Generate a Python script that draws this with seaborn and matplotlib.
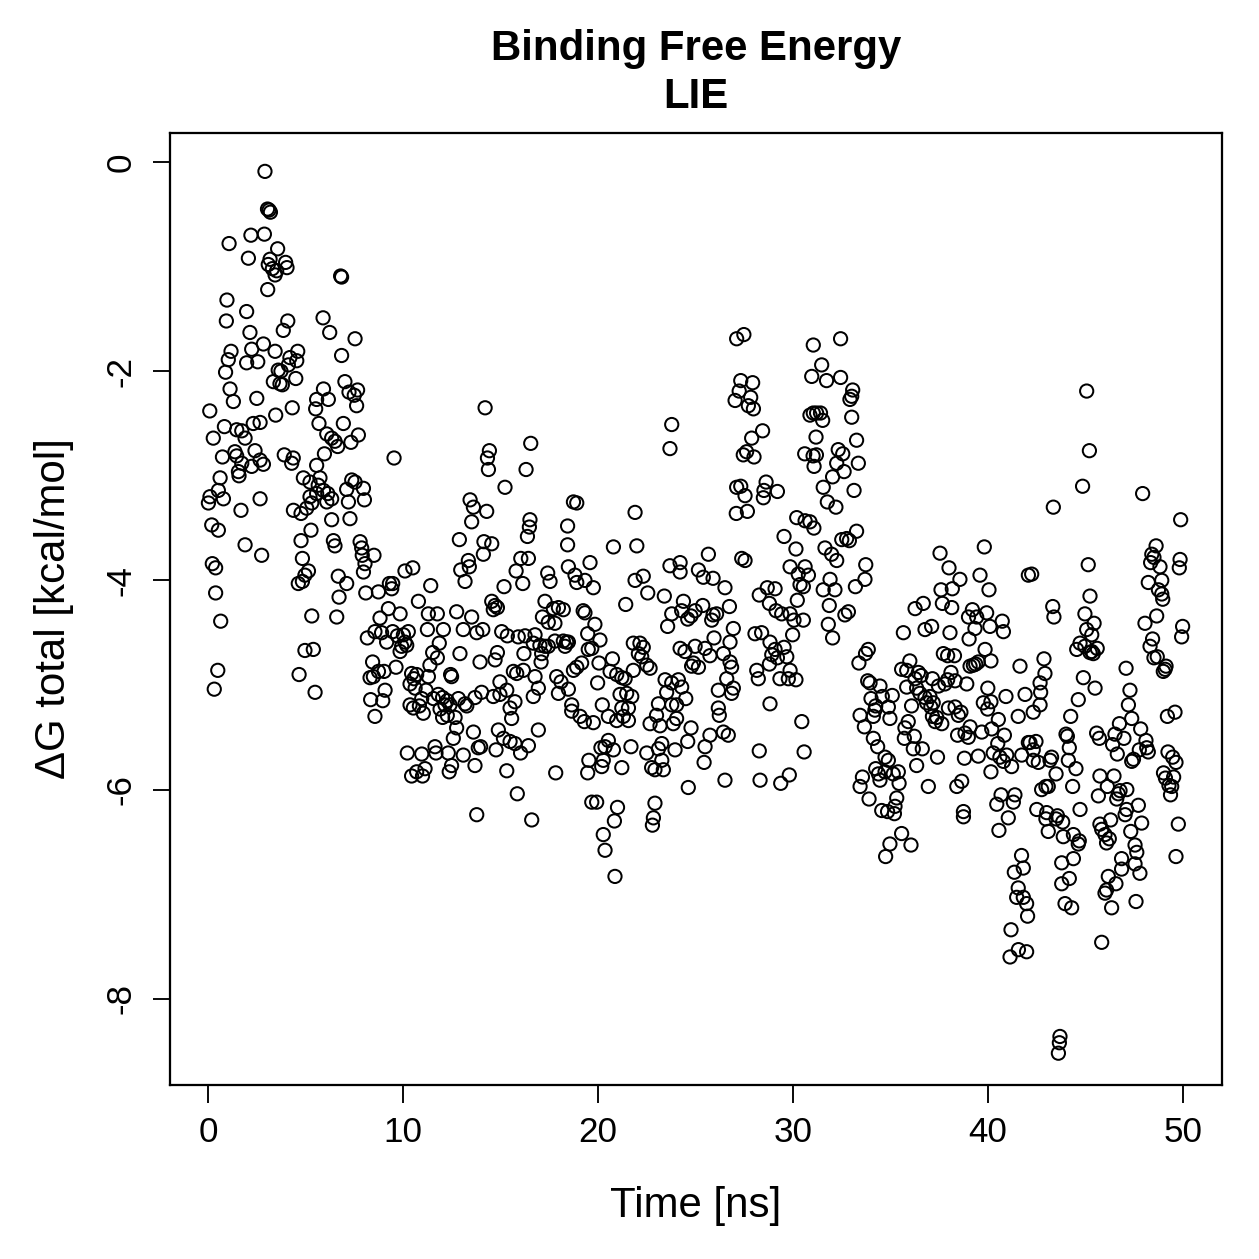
import matplotlib
matplotlib.use("Agg")
import pandas as pd
import matplotlib.pyplot as plt
import seaborn as sns

# (time [ns], dG total [kcal/mol]), split by time window
seg_00_08 = [
    (2.92, -0.09), (3.05, -0.45), (3.13, -0.46), (3.2, -0.48), (2.2, -0.70), (2.89, -0.69), (1.08, -0.78),
    (3.57, -0.83), (2.07, -0.92), (3.18, -0.93), (3.09, -0.98), (3.3, -1.02), (3.44, -1.08), (3.52, -1.04),
    (3.98, -0.96), (4.05, -1.01), (6.8, -1.09), (6.85, -1.1), (3.06, -1.22), (0.97, -1.32), (1.98, -1.43),
    (0.94, -1.52), (4.09, -1.52), (3.86, -1.61), (5.9, -1.49), (6.24, -1.63), (7.54, -1.69), (2.15, -1.63),
    (1.18, -1.81), (1.04, -1.89), (2.24, -1.79), (1.98, -1.92), (2.55, -1.91), (2.84, -1.74), (3.44, -1.81),
    (4.2, -1.87), (4.6, -1.81), (4.55, -1.9), (4.12, -1.94), (6.85, -1.85), (0.9, -2.01), (3.6, -1.99),
    (3.74, -2.0), (3.35, -2.1), (3.69, -2.12), (3.81, -2.13), (4.5, -2.07), (7.02, -2.1), (7.23, -2.2),
    (7.5, -2.23), (7.67, -2.18), (7.62, -2.33), (5.92, -2.17), (5.57, -2.27), (6.17, -2.27), (5.52, -2.36),
    (1.13, -2.17), (1.3, -2.29), (2.5, -2.26), (0.09, -2.38), (3.47, -2.42), (4.32, -2.35), (5.69, -2.5),
    (6.94, -2.5), (0.84, -2.53), (1.47, -2.56), (1.73, -2.57), (1.9, -2.64), (2.32, -2.5), (2.67, -2.49),
    (0.27, -2.64), (6.09, -2.6), (6.34, -2.64), (6.51, -2.67), (6.65, -2.72), (7.71, -2.61), (7.33, -2.68),
    (1.38, -2.77), (0.74, -2.82), (1.47, -2.81), (1.73, -2.88), (2.41, -2.76), (2.67, -2.85), (2.84, -2.89),
    (1.56, -2.96), (1.59, -3.0), (2.24, -2.91), (3.91, -2.8), (4.37, -2.83), (4.29, -2.88), (5.97, -2.79),
    (5.57, -2.9), (0.62, -3.02), (0.53, -3.14), (0.1, -3.2), (0.02, -3.26), (0.79, -3.22), (2.67, -3.22),
    (1.69, -3.33), (4.89, -3.02), (5.23, -3.06), (5.74, -3.02), (5.65, -3.09), (5.23, -3.2), (5.57, -3.17),
    (5.92, -3.14), (6.14, -3.17), (6.34, -3.22), (6.09, -3.25), (7.37, -3.04), (7.54, -3.06), (7.11, -3.13),
    (7.2, -3.25), (7.97, -3.12), (8.02, -3.23), (4.38, -3.33), (4.77, -3.36), (5.06, -3.31), (5.32, -3.26),
    (6.34, -3.42), (7.28, -3.41), (0.19, -3.47), (0.53, -3.52), (1.9, -3.66), (2.75, -3.76), (5.28, -3.52),
    (4.77, -3.62), (4.84, -3.79), (5.15, -3.91), (4.97, -3.95), (6.43, -3.62), (6.51, -3.67), (7.8, -3.63),
    (7.88, -3.69), (7.91, -3.76), (8.05, -3.84), (7.97, -3.92), (0.22, -3.84), (0.39, -3.88), (0.39, -4.12),
    (4.63, -4.03), (4.84, -4.01), (6.68, -3.96), (7.11, -4.03), (6.72, -4.16), (8.09, -4.12), (0.65, -4.39),
    (0.5, -4.86), (0.32, -5.04), (5.32, -4.34), (4.97, -4.67), (5.4, -4.66), (4.67, -4.9), (5.49, -5.07),
    (6.6, -4.35),
]

seg_08_17 = [
    (14.21, -2.35), (16.55, -2.69), (9.54, -2.83), (14.43, -2.76), (14.33, -2.83), (14.38, -2.94),
    (16.31, -2.94), (15.23, -3.11), (13.44, -3.23), (13.61, -3.3), (14.29, -3.34), (13.52, -3.44),
    (16.51, -3.42), (16.48, -3.49), (16.38, -3.58), (12.89, -3.61), (14.15, -3.63), (14.55, -3.65),
    (14.12, -3.75), (13.35, -3.81), (12.96, -3.9), (13.4, -3.87), (13.18, -4.01), (16.04, -3.79),
    (16.43, -3.79), (15.8, -3.91), (16.14, -4.03), (15.18, -4.06), (8.51, -3.76), (8.74, -4.11),
    (9.3, -4.03), (9.47, -4.03), (9.42, -4.08), (10.1, -3.91), (10.5, -3.88), (11.42, -4.05), (10.79, -4.2),
    (9.25, -4.27), (9.85, -4.32), (8.82, -4.36), (8.56, -4.49), (8.9, -4.5), (8.17, -4.55), (9.16, -4.59),
    (9.47, -4.49), (9.71, -4.53), (10.02, -4.52), (10.27, -4.49), (10.1, -4.59), (9.93, -4.63),
    (10.19, -4.62), (9.85, -4.68), (8.44, -4.78), (8.74, -4.87), (8.48, -4.92), (8.31, -4.93),
    (9.03, -4.87), (9.64, -4.83), (9.08, -5.05), (8.34, -5.14), (8.96, -5.15), (8.56, -5.3),
    (11.3, -4.32), (11.76, -4.32), (12.75, -4.3), (13.52, -4.35), (11.25, -4.47), (12.07, -4.47),
    (13.09, -4.47), (13.78, -4.5), (14.09, -4.47), (11.86, -4.6), (11.52, -4.69), (11.76, -4.74),
    (12.92, -4.7), (13.95, -4.78), (14.72, -4.76), (14.84, -4.69), (15.06, -4.49), (15.35, -4.53),
    (15.91, -4.54), (16.26, -4.53), (16.68, -4.6), (16.2, -4.7), (14.55, -4.2), (14.72, -4.24),
    (14.84, -4.26), (14.63, -4.28), (11.38, -4.81), (11.3, -4.92), (10.44, -4.89), (10.7, -4.9),
    (10.36, -4.99), (10.62, -5.03), (10.56, -4.94), (11.18, -5.05), (12.44, -4.9), (12.49, -4.92),
    (11.81, -5.09), (12.03, -5.12), (12.27, -5.15), (12.15, -5.19), (11.9, -5.23), (12.41, -5.19),
    (11.56, -5.13), (10.96, -5.13), (10.84, -5.2), (10.36, -5.19), (10.53, -5.22), (11.04, -5.27),
    (12.84, -5.13), (13.18, -5.18), (13.27, -5.2), (13.69, -5.12), (14.03, -5.07), (14.97, -4.97),
    (15.32, -5.05), (15.66, -4.87), (15.83, -4.89), (16.17, -4.86), (14.63, -5.11), (14.97, -5.09),
    (15.74, -5.16), (15.49, -5.22), (15.57, -5.32), (16.68, -5.11), (12.27, -5.29), (12.03, -5.31),
    (12.67, -5.31), (12.75, -5.41), (12.58, -5.51), (13.61, -5.45), (14.89, -5.43), (15.15, -5.51),
    (15.49, -5.54), (15.74, -5.56), (16.03, -5.65), (16.43, -5.58), (13.86, -5.6), (13.98, -5.59),
    (14.77, -5.62), (11.64, -5.59), (11.69, -5.65), (12.32, -5.65), (10.22, -5.65), (10.96, -5.66),
    (13.09, -5.67), (10.7, -5.83), (11.13, -5.8), (10.44, -5.87), (11.0, -5.87), (12.37, -5.83),
    (12.49, -5.77), (13.69, -5.77), (15.32, -5.82), (15.86, -6.04), (13.78, -6.24), (16.6, -6.29),
]

seg_17_25 = [
    (23.78, -2.51), (23.69, -2.74), (18.74, -3.25), (18.91, -3.26), (21.9, -3.35), (18.44, -3.48),
    (18.44, -3.66), (20.79, -3.68), (21.99, -3.67), (19.59, -3.83), (18.48, -3.87), (17.42, -3.93),
    (17.54, -4.01), (18.82, -3.95), (18.91, -4.02), (19.33, -4.0), (19.76, -4.07), (21.9, -4.0),
    (22.32, -3.96), (22.55, -4.12), (21.42, -4.23), (23.69, -3.86), (24.21, -3.83), (24.21, -3.92),
    (25.15, -3.9), (23.4, -4.15), (17.28, -4.2), (17.97, -4.26), (18.22, -4.28), (17.71, -4.27),
    (17.15, -4.35), (17.45, -4.4), (17.79, -4.41), (19.24, -4.29), (19.33, -4.31), (19.84, -4.42),
    (19.47, -4.51), (20.1, -4.57), (19.68, -4.65), (19.5, -4.66), (24.38, -4.2), (24.29, -4.29),
    (24.77, -4.34), (24.98, -4.29), (24.6, -4.37), (23.78, -4.32), (23.57, -4.44), (16.77, -4.52),
    (17.02, -4.62), (17.28, -4.63), (17.11, -4.7), (17.08, -4.78), (17.45, -4.63), (17.79, -4.58),
    (18.22, -4.58), (18.39, -4.59), (18.31, -4.63), (18.48, -4.59), (19.16, -4.79), (18.91, -4.83),
    (18.74, -4.86), (17.88, -4.92), (18.1, -4.97), (17.97, -5.08), (18.48, -5.04), (16.94, -5.03),
    (16.77, -4.92), (20.05, -4.79), (20.74, -4.75), (19.98, -4.98), (21.81, -4.6), (22.15, -4.6),
    (22.32, -4.64), (22.07, -4.7), (22.24, -4.73), (22.5, -4.81), (22.67, -4.84), (20.62, -4.87),
    (20.96, -4.9), (21.22, -4.93), (21.39, -4.94), (21.81, -4.86), (21.13, -5.09), (21.47, -5.08),
    (21.73, -5.11), (21.22, -5.22), (21.56, -5.22), (21.3, -5.3), (20.96, -5.34), (21.56, -5.34),
    (20.53, -5.3), (20.22, -5.19), (19.76, -5.36), (18.65, -5.19), (18.65, -5.25), (19.08, -5.3),
    (19.3, -5.35), (24.21, -4.65), (24.46, -4.68), (24.89, -4.79), (25.15, -4.83), (24.8, -4.82),
    (24.98, -4.63), (23.44, -4.95), (23.78, -4.98), (23.52, -5.07), (24.12, -4.95), (24.29, -5.02),
    (24.5, -5.13), (23.78, -5.19), (24.03, -5.19), (23.1, -5.18), (23.0, -5.29), (22.67, -5.37),
    (23.18, -5.39), (23.86, -5.37), (24.03, -5.32), (24.77, -5.41), (24.6, -5.54), (16.94, -5.43),
    (20.53, -5.53), (20.36, -5.59), (20.15, -5.6), (20.79, -5.62), (21.69, -5.59), (22.5, -5.65),
    (23.1, -5.61), (23.27, -5.56), (23.95, -5.62), (19.53, -5.72), (19.47, -5.84), (20.27, -5.72),
    (20.19, -5.78), (21.22, -5.79), (22.75, -5.79), (22.92, -5.81), (23.35, -5.81), (23.27, -5.72),
    (17.83, -5.84), (24.63, -5.98), (19.68, -6.12), (19.93, -6.12), (21.0, -6.17), (20.84, -6.3),
    (22.92, -6.13), (22.84, -6.27), (22.79, -6.34), (20.27, -6.43), (20.36, -6.58), (20.87, -6.83),
]

seg_25_34 = [
    (27.11, -1.69), (27.48, -1.65), (31.04, -1.75), (32.44, -1.69), (27.32, -2.09), (27.93, -2.11),
    (27.24, -2.19), (27.03, -2.28), (27.83, -2.25), (27.71, -2.33), (27.97, -2.36), (31.47, -1.94),
    (30.96, -2.05), (31.72, -2.09), (32.44, -2.06), (33.06, -2.18), (33.01, -2.24), (32.92, -2.27),
    (33.01, -2.44), (30.87, -2.42), (31.04, -2.4), (31.21, -2.4), (31.41, -2.4), (31.52, -2.47),
    (31.18, -2.63), (33.26, -2.66), (28.44, -2.57), (27.88, -2.64), (27.62, -2.77), (27.45, -2.8),
    (28.0, -2.82), (30.6, -2.79), (31.03, -2.81), (31.2, -2.8), (31.08, -2.91), (32.32, -2.75),
    (32.55, -2.79), (32.24, -2.88), (32.62, -2.96), (32.03, -3.01), (33.35, -2.88), (31.55, -3.11),
    (31.76, -3.25), (32.2, -3.3), (33.13, -3.14), (27.11, -3.11), (27.32, -3.1), (27.54, -3.19),
    (27.09, -3.36), (27.66, -3.34), (28.62, -3.06), (28.51, -3.14), (28.48, -3.21), (29.2, -3.15),
    (30.19, -3.4), (30.62, -3.43), (30.87, -3.44), (31.07, -3.5), (29.54, -3.58), (30.15, -3.7),
    (32.5, -3.61), (32.75, -3.6), (32.89, -3.62), (33.26, -3.53), (31.64, -3.69), (31.98, -3.75),
    (32.24, -3.81), (25.66, -3.75), (27.37, -3.79), (27.54, -3.81), (25.4, -3.97), (25.9, -3.98),
    (26.51, -4.07), (29.85, -3.87), (30.27, -3.94), (30.62, -3.87), (30.79, -3.95), (30.36, -4.04),
    (30.53, -4.06), (30.22, -4.19), (28.27, -4.14), (28.68, -4.07), (29.08, -4.08), (28.79, -4.22),
    (29.13, -4.29), (29.42, -4.32), (29.85, -4.32), (30.05, -4.38), (30.53, -4.38), (29.98, -4.52),
    (31.55, -4.09), (31.9, -3.99), (32.15, -4.09), (31.86, -4.24), (31.81, -4.42), (32.03, -4.55),
    (32.66, -4.33), (32.84, -4.3), (33.2, -4.06), (33.73, -3.85), (33.69, -3.99), (25.37, -4.24),
    (25.9, -4.33), (25.83, -4.38), (26.08, -4.32), (26.74, -4.25), (26.94, -4.46), (26.77, -4.59),
    (25.95, -4.55), (25.49, -4.65), (28.05, -4.51), (28.39, -4.5), (28.82, -4.59), (29.08, -4.66),
    (29.54, -4.64), (28.91, -4.71), (29.2, -4.74), (29.68, -4.73), (28.79, -4.8), (29.85, -4.86),
    (30.15, -4.95), (29.33, -4.94), (28.14, -4.86), (28.22, -4.94), (29.76, -4.94), (25.74, -4.72),
    (26.43, -4.7), (26.77, -4.78), (26.85, -4.83), (26.6, -4.94), (26.17, -5.05), (26.94, -5.03),
    (26.85, -5.08), (26.22, -5.29), (26.17, -5.22), (25.74, -5.48), (26.68, -5.48), (25.49, -5.59),
    (26.43, -5.45), (25.44, -5.74), (28.82, -5.18), (30.45, -5.35), (28.27, -5.63), (30.57, -5.64),
    (26.51, -5.91), (28.31, -5.91), (29.37, -5.94), (29.81, -5.86),
]

seg_34_42 = [
    (37.54, -3.74), (39.81, -3.68), (38.0, -3.88), (38.56, -3.99), (38.17, -4.08), (37.59, -4.09),
    (39.59, -3.95), (40.05, -4.09), (42.07, -3.95), (36.68, -4.22), (36.26, -4.27), (37.66, -4.22),
    (38.14, -4.26), (39.2, -4.28), (39.0, -4.35), (39.42, -4.35), (39.93, -4.31), (40.1, -4.44),
    (40.73, -4.39), (40.79, -4.49), (35.66, -4.5), (36.77, -4.47), (37.11, -4.44), (38.05, -4.5),
    (39.03, -4.56), (39.33, -4.46), (33.86, -4.66), (33.72, -4.7), (33.38, -4.79), (39.85, -4.66),
    (37.71, -4.7), (37.93, -4.72), (38.28, -4.72), (35.99, -4.77), (35.57, -4.85), (35.83, -4.86),
    (36.43, -4.88), (36.57, -4.91), (36.26, -4.94), (39.08, -4.82), (39.25, -4.81), (39.37, -4.8),
    (39.5, -4.78), (40.15, -4.77), (41.64, -4.82), (38.1, -4.88), (38.31, -4.96), (38.91, -4.99),
    (37.93, -4.95), (37.15, -4.94), (37.46, -5.01), (37.79, -4.99), (33.83, -4.96), (33.95, -4.98),
    (34.46, -5.01), (35.09, -5.1), (34.58, -5.11), (34.0, -5.13), (35.83, -5.02), (36.34, -5.03),
    (36.51, -5.08), (36.77, -5.12), (37.02, -5.11), (36.85, -5.17), (37.19, -5.17), (37.07, -5.21),
    (36.08, -5.2), (39.99, -5.03), (40.92, -5.11), (41.9, -5.09), (39.76, -5.17), (40.15, -5.16),
    (39.98, -5.23), (33.44, -5.29), (34.24, -5.2), (34.2, -5.24), (34.12, -5.3), (34.89, -5.21),
    (34.97, -5.32), (33.66, -5.4), (37.97, -5.22), (38.31, -5.21), (38.48, -5.29), (38.61, -5.26),
    (37.37, -5.31), (37.63, -5.37), (37.29, -5.35), (37.15, -5.3), (35.91, -5.35), (35.74, -5.41),
    (35.71, -5.51), (36.22, -5.49), (36.17, -5.61), (36.63, -5.61), (41.55, -5.3), (40.53, -5.33),
    (39.08, -5.4), (39.68, -5.45), (40.19, -5.42), (40.84, -5.48), (38.44, -5.48), (38.82, -5.46),
    (38.99, -5.5), (40.5, -5.56), (40.27, -5.65), (40.61, -5.69), (40.96, -5.67), (41.21, -5.78),
    (41.73, -5.67), (42.07, -5.55), (40.15, -5.83), (40.79, -5.73), (34.12, -5.51), (34.34, -5.59),
    (34.72, -5.69), (34.89, -5.72), (34.24, -5.8), (34.38, -5.85), (34.72, -5.83), (35.14, -5.85),
    (35.4, -5.83), (35.44, -5.94), (34.46, -5.91), (37.41, -5.69), (36.34, -5.77), (38.79, -5.7),
    (39.5, -5.68), (33.56, -5.88), (33.44, -5.97), (33.9, -6.09), (36.94, -5.97), (38.4, -5.97),
    (38.65, -5.92), (40.67, -6.05), (41.38, -6.05), (40.45, -6.14), (41.3, -6.12), (41.04, -6.27),
    (40.56, -6.39), (38.74, -6.21), (38.74, -6.26), (34.55, -6.2), (34.85, -6.21), (35.2, -6.23),
    (35.32, -6.08), (35.23, -6.16), (35.57, -6.42), (34.97, -6.52), (36.05, -6.53), (34.75, -6.64),
    (41.72, -6.63), (41.35, -6.79), (41.81, -6.75), (41.55, -6.94), (41.47, -7.03), (41.81, -7.03),
    (41.98, -7.09), (42.03, -7.21), (41.18, -7.34), (41.13, -7.6), (41.56, -7.53), (41.98, -7.55),
]

seg_42_50 = [
    (45.06, -2.19), (45.2, -2.76), (44.85, -3.1), (47.93, -3.17), (43.35, -3.3), (49.88, -3.42),
    (45.14, -3.85), (42.24, -3.94), (48.62, -3.67), (48.4, -3.75), (48.51, -3.78), (48.34, -3.83),
    (48.82, -3.87), (49.85, -3.8), (49.81, -3.88), (48.22, -4.02), (48.91, -4.0), (48.74, -4.09),
    (48.91, -4.13), (48.96, -4.18), (43.32, -4.25), (43.38, -4.35), (45.23, -4.15), (44.97, -4.32),
    (45.44, -4.41), (45.06, -4.47), (45.32, -4.52), (44.72, -4.6), (44.55, -4.66), (44.97, -4.63),
    (45.6, -4.65), (45.23, -4.69), (45.4, -4.7), (45.32, -4.68), (48.65, -4.34), (48.05, -4.41),
    (48.44, -4.56), (48.31, -4.63), (49.98, -4.44), (49.93, -4.54), (48.51, -4.74), (48.68, -4.73),
    (49.13, -4.82), (49.08, -4.85), (48.99, -4.87), (42.87, -4.75), (42.92, -4.89), (42.67, -4.98),
    (44.89, -4.93), (45.49, -5.03), (47.08, -4.84), (47.28, -5.05), (42.7, -5.07), (42.67, -5.19),
    (42.32, -5.26), (44.63, -5.14), (44.24, -5.3), (47.2, -5.19), (47.37, -5.32), (46.74, -5.37),
    (47.83, -5.42), (49.2, -5.3), (49.59, -5.26), (44.0, -5.47), (44.07, -5.49), (44.17, -5.6),
    (44.12, -5.72), (44.51, -5.8), (45.57, -5.46), (45.71, -5.51), (46.51, -5.47), (46.97, -5.51),
    (46.39, -5.57), (46.63, -5.66), (48.1, -5.53), (47.76, -5.62), (48.22, -5.64), (48.14, -5.6),
    (47.46, -5.71), (47.37, -5.73), (42.15, -5.55), (42.46, -5.54), (42.32, -5.62), (42.58, -5.74),
    (42.32, -5.72), (43.26, -5.69), (43.18, -5.72), (43.49, -5.85), (43.09, -5.97), (42.75, -6.0),
    (42.97, -5.97), (44.34, -5.97), (49.23, -5.64), (49.47, -5.69), (49.64, -5.74), (49.0, -5.84),
    (49.1, -5.89), (49.52, -5.88), (49.28, -5.96), (49.42, -5.97), (49.36, -6.05), (45.74, -5.87),
    (46.46, -5.87), (46.12, -5.97), (45.66, -6.06), (46.77, -6.01), (46.68, -6.04), (47.12, -6.0),
    (46.6, -6.09), (47.71, -6.15), (47.11, -6.19), (47.03, -6.24), (47.32, -6.4), (47.88, -6.32),
    (44.72, -6.19), (42.5, -6.19), (43.01, -6.22), (42.97, -6.28), (43.49, -6.28), (43.83, -6.31),
    (43.56, -6.25), (43.09, -6.4), (49.76, -6.33), (49.64, -6.64), (45.74, -6.33), (45.83, -6.38),
    (46.0, -6.43), (46.08, -6.51), (46.29, -6.29), (46.22, -6.47), (43.86, -6.45), (44.38, -6.43),
    (44.63, -6.52), (44.68, -6.49), (47.54, -6.53), (47.63, -6.6), (46.85, -6.66), (47.54, -6.71),
    (46.85, -6.76), (47.79, -6.8), (44.38, -6.66), (43.78, -6.7), (44.17, -6.85), (43.78, -6.9),
    (46.17, -6.83), (46.56, -6.9), (46.08, -6.96), (46.0, -6.99), (47.59, -7.07), (43.95, -7.09),
    (44.29, -7.13), (46.34, -7.13), (45.83, -7.46), (43.69, -8.36), (43.66, -8.42), (43.61, -8.52),
]

x_ticks = [0, 10, 20, 30, 40, 50]
y_ticks = [0, -2, -4, -6, -8]
y_tick_labels = ["0", "-2", "-4", "-6", "-8"]

segments = [seg_00_08, seg_08_17, seg_17_25, seg_25_34, seg_34_42, seg_42_50]
df = pd.concat([pd.DataFrame(s, columns=["time", "dg"]) for s in segments], ignore_index=True)

sns.set_theme(style="ticks")
plt.rcParams["font.family"] = ["Liberation Sans", "DejaVu Sans"]
plt.rcParams["axes.unicode_minus"] = False
plt.rcParams["text.color"] = "black"
plt.rcParams["axes.labelcolor"] = "black"

fig = plt.figure(figsize=(1259 / 180, 1259 / 180), dpi=180)
ax = fig.add_axes([170 / 1259, 174 / 1259, 1052 / 1259, 952 / 1259])

sns.scatterplot(data=df, x="time", y="dg", ax=ax, marker="o", s=28,
                facecolors="none", edgecolor="black", linewidth=0.8, legend=False)

ax.set_xlim(-1.95, 52.0)
ax.set_ylim(-8.824, 0.277)
ax.set_xticks(x_ticks)
ax.set_xticklabels([str(v) for v in x_ticks])
ax.set_yticks(y_ticks)
ax.set_yticklabels(y_tick_labels, rotation=90, va="center")

for side in ["left", "right", "top", "bottom"]:
    ax.spines[side].set_visible(True)
    ax.spines[side].set_color("black")
    ax.spines[side].set_linewidth(0.9)
ax.tick_params(axis="both", direction="out", length=7, width=0.75, colors="black", labelsize=14)
ax.tick_params(axis="x", pad=5.2)
ax.tick_params(axis="y", pad=6)

ax.set_xlabel("Time [ns]", fontsize=16.8, labelpad=15)
ax.set_ylabel("ΔG total [kcal/mol]", fontsize=16.8, labelpad=12)
ax.set_title("Binding Free Energy\nLIE", fontsize=16.8, fontweight="bold", linespacing=1.25, pad=10)
ax.grid(False)

fig.savefig("out.png", dpi=180, facecolor="white")
